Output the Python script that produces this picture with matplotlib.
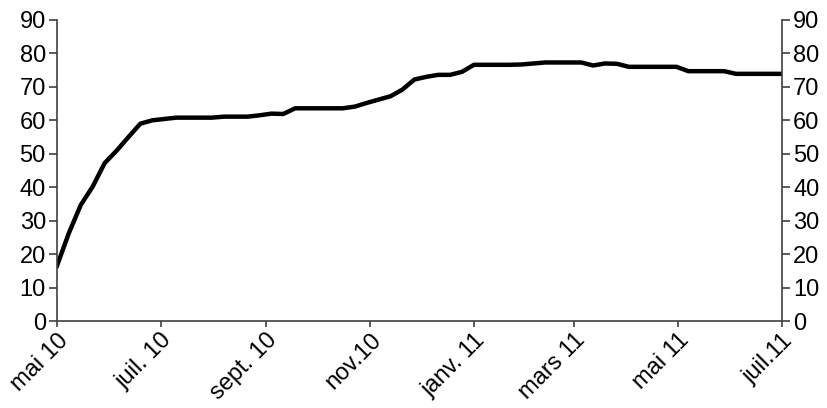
import matplotlib
matplotlib.use("Agg")
import matplotlib.pyplot as plt
import datetime as dt

plt.rcParams['font.family'] = ['Liberation Sans', 'DejaVu Sans']

start = dt.date(2010, 5, 1)
values = [16.5, 26.3, 34.7, 40.2, 47.2, 50.9, 55.0, 59.0, 60.0, 60.4,
          60.8, 60.8, 60.8, 60.8, 61.1, 61.1, 61.1, 61.5, 62.0, 61.9,
          63.6, 63.6, 63.6, 63.6, 63.6, 64.1, 65.2, 66.2, 67.2, 69.2,
          72.2, 73.0, 73.6, 73.6, 74.5, 76.6, 76.6, 76.6, 76.6, 76.7,
          77.0, 77.3, 77.3, 77.3, 77.3, 76.4, 77.0, 76.9, 76.0, 76.0,
          76.0, 76.0, 76.0, 74.7, 74.7, 74.7, 74.7, 73.9, 73.9, 73.9,
          73.9, 73.9]
dates = [start + dt.timedelta(days=7 * i) for i in range(len(values))]

tick_dates = [dt.date(2010, 5, 1), dt.date(2010, 7, 1), dt.date(2010, 9, 1),
              dt.date(2010, 11, 1), dt.date(2011, 1, 1), dt.date(2011, 3, 1),
              dt.date(2011, 5, 1), dt.date(2011, 7, 1)]
tick_labels = ["mai 10", "juil. 10", "sept. 10", "nov.10", "janv. 11",
               "mars 11", "mai 11", "juil.11"]
y_ticks = list(range(0, 91, 10))

fig = plt.figure(figsize=(8.28, 4.08), dpi=100)
ax = fig.add_axes([0.0688, 0.2132, 0.8756, 0.7378])
ax.plot(dates, values, color='black', linewidth=3.2, solid_joinstyle='round')

ax.set_xlim(tick_dates[0], tick_dates[-1])
ax.set_ylim(0, 90)
ax.set_yticks(y_ticks)
ax.set_xticks(tick_dates)
ax.set_xticklabels(tick_labels, rotation=45, ha='right', rotation_mode='anchor')

ax2 = ax.twinx()
ax2.set_ylim(0, 90)
ax2.set_yticks(y_ticks)

spine_color = '#404040'
for a in (ax, ax2):
    a.spines['top'].set_visible(False)
    for s in ('left', 'right', 'bottom'):
        a.spines[s].set_color(spine_color)
        a.spines[s].set_linewidth(1.2)
ax.spines['right'].set_visible(False)
ax2.spines['left'].set_visible(False)
ax2.spines['bottom'].set_visible(False)

ax.tick_params(axis='y', direction='out', length=6, width=1.2, color=spine_color,
               labelsize=17, pad=2)
ax2.tick_params(axis='y', direction='out', length=6, width=1.2, color=spine_color,
                labelsize=17, pad=2)
ax.tick_params(axis='x', direction='out', length=4, width=1.2, color=spine_color,
               labelsize=17, pad=2)

fig.savefig('out.png', dpi=100)
